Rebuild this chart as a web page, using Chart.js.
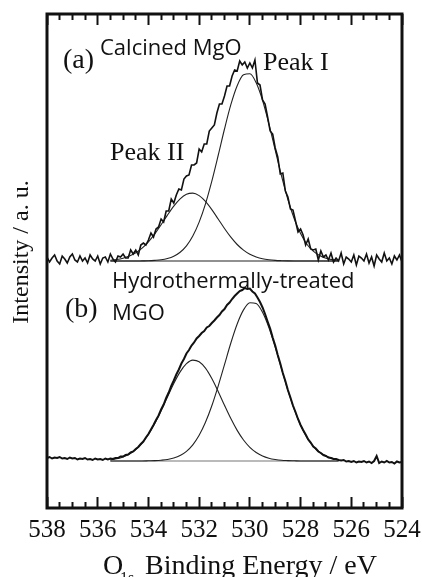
<!DOCTYPE html>
<html>
<head>
<meta charset="utf-8">
<script src="https://cdn.jsdelivr.net/npm/chart.js@4.4.1/dist/chart.umd.min.js"></script>
</head>
<body style="margin:0">
<canvas id="xps-chart" width="422" height="577"></canvas>
<script>
// O1s spectra, binding energy in eV (x) vs intensity in arbitrary units (y)
const rawEnergy = [
  538.0, 537.9, 537.8, 537.7, 537.6, 537.5, 537.4, 537.3, 537.2, 537.1,
  537.0, 536.9, 536.8, 536.7, 536.6, 536.5, 536.4, 536.3, 536.2, 536.1,
  536.0, 535.9, 535.8, 535.7, 535.6, 535.5, 535.4, 535.3, 535.2, 535.1,
  535.0, 534.9, 534.8, 534.7, 534.6, 534.5, 534.4, 534.3, 534.2, 534.1,
  534.0, 533.9, 533.8, 533.7, 533.6, 533.5, 533.4, 533.3, 533.2, 533.1,
  533.0, 532.9, 532.8, 532.7, 532.6, 532.5, 532.4, 532.3, 532.2, 532.1,
  532.0, 531.9, 531.8, 531.7, 531.6, 531.5, 531.4, 531.3, 531.2, 531.1,
  531.0, 530.9, 530.8, 530.7, 530.6, 530.5, 530.4, 530.3, 530.2, 530.1,
  530.0, 529.9, 529.8, 529.7, 529.6, 529.5, 529.4, 529.3, 529.2, 529.1,
  529.0, 528.9, 528.8, 528.7, 528.6, 528.5, 528.4, 528.3, 528.2, 528.1,
  528.0, 527.9, 527.8, 527.7, 527.6, 527.5, 527.4, 527.3, 527.2, 527.1,
  527.0, 526.9, 526.8, 526.7, 526.6, 526.5, 526.4, 526.3, 526.2, 526.1,
  526.0, 525.9, 525.8, 525.7, 525.6, 525.5, 525.4, 525.3, 525.2, 525.1,
  525.0, 524.9, 524.8, 524.7, 524.6, 524.5, 524.4, 524.3, 524.2, 524.1,
  524.0
];

// (a) calcined MgO, measured spectrum
const rawA = [
  252, 247, 251, 254, 248, 245, 253, 250, 246, 252,
  255, 249, 247, 253, 248, 251, 246, 254, 250, 248,
  253, 245, 251, 252, 247, 255, 250, 247, 253, 252,
  255, 251, 251, 259, 255, 259, 254, 264, 266, 264,
  269, 276, 272, 280, 282, 290, 287, 298, 298, 310,
  306, 314, 320, 319, 330, 333, 334, 344, 344, 346,
  360, 357, 365, 365, 378, 381, 384, 396, 405, 405,
  413, 423, 423, 433, 439, 438, 448, 444, 447, 441,
  446, 441, 449, 426, 424, 409, 405, 392, 378, 375,
  361, 352, 335, 336, 318, 312, 300, 299, 288, 277,
  280, 274, 264, 270, 260, 259, 260, 249, 258, 252,
  254, 249, 256, 247, 251, 248, 256, 245, 252, 250,
  247, 254, 244, 253, 251, 248, 255, 246, 252, 243,
  254, 250, 247, 256, 248, 251, 245, 253, 249, 254,
  247
];

// (b) hydrothermally-treated MgO, measured spectrum
const rawB = [
  51, 52, 50.5, 51.5, 51, 52, 50.5, 51, 50, 51.5,
  50.5, 51, 49.5, 50.5, 50, 51, 49.5, 50, 49, 50.5,
  49.5, 50, 49, 50.5, 49.5, 50.5, 50, 51, 51, 52.5,
  52.5, 54, 54.5, 56.5, 57.5, 60, 62, 65, 67.5, 71.5,
  75, 79.5, 84, 89, 93.5, 99.5, 104.5, 111, 116.5, 123,
  128.5, 134.5, 139.5, 145.5, 150, 155.5, 159, 163.5, 166.5, 170.5,
  173, 176, 178, 181.5, 183, 186, 188.5, 191.5, 194, 197.5,
  200, 204, 206.5, 210, 213, 215.5, 218, 219, 221, 220,
  220.5, 217.5, 215.5, 211.5, 207, 201.5, 195, 187.5, 180.5, 171.5,
  163.5, 154, 145.5, 136, 128, 119, 111.5, 103.5, 97, 90,
  84, 79, 74.5, 69.5, 66.5, 62.5, 60.5, 57.5, 56, 54,
  53, 51.5, 51, 50, 50, 49, 48.5, 49, 47.5, 48,
  47, 48, 46.5, 47.5, 47, 48, 46.5, 47.5, 46, 48,
  53, 46, 47.5, 46.5, 48, 46.5, 47, 45.5, 47.5, 46.5,
  47
];

// fitted components
const fitEnergy = [
  535.5, 535.25, 535, 534.75, 534.5, 534.25, 534, 533.75, 533.5, 533.25,
  533, 532.75, 532.5, 532.25, 532, 531.75, 531.5, 531.25, 531, 530.75,
  530.5, 530.25, 530, 529.75, 529.5, 529.25, 529, 528.75, 528.5, 528.25,
  528, 527.75, 527.5, 527.25, 527, 526.75, 526.5
];
const peakIA = [
  248, 248, 248, 248, 248, 248.1, 248.2, 248.6, 249.2, 250.5,
  252.8, 256.8, 263.2, 273.0, 286.9, 305.2, 327.9, 353.5, 380.0, 404.3,
  423.3, 434.2, 435.2, 426.2, 408.6, 385.1, 358.8, 332.8, 309.5, 290.2,
  275.4, 264.8, 257.8, 253.4, 250.8, 249.4, 248.7
];
const peakIIA = [
  248.8, 249.5, 250.8, 252.9, 256.2, 260.9, 267.2, 275.1, 284.3, 293.9,
  302.9, 310.2, 314.8, 315.9, 313.4, 307.6, 299.4, 290.0, 280.5, 271.8,
  264.5, 258.9, 254.7, 252.0, 250.2, 249.2, 248.6, 248.3, 248.1, 248,
  248, 248, 248, 248, 248, 248, 248
];
const peakIB = [
  48, 48, 48, 48, 48, 48, 48.2, 48.4, 48.8, 49.5,
  51.0, 53.5, 57.7, 64.2, 73.7, 86.7, 103.2, 122.9, 144.4, 166.0,
  185.0, 199.1, 206.3, 205.5, 196.8, 181.5, 161.8, 140.1, 118.7, 99.6,
  83.8, 71.5, 62.7, 56.7, 52.9, 50.6, 49.3
];
const peakIIB = [
  49.1, 50.2, 52.0, 54.9, 59.4, 65.8, 74.5, 85.4, 98.2, 112.0,
  125.5, 137.1, 145.3, 148.9, 147.3, 140.9, 130.5, 117.6, 103.7, 90.4,
  78.6, 69.0, 61.7, 56.5, 53.0, 50.8, 49.5, 48.7, 48.4, 48.2,
  48, 48, 48, 48, 48, 48, 48
];
const baseEnergy = [535.5, 526.5];
const baseA = [248, 248];
const baseB = [48, 48];

const xTickValues = [538, 536, 534, 532, 530, 528, 526, 524];
const xMinorTicks = [537.5, 537, 536.5, 535.5, 535, 534.5, 533.5, 533, 532.5, 531.5, 531, 530.5,
                     529.5, 529, 528.5, 527.5, 527, 526.5, 525.5, 525, 524.5];

const SERIF = '"Liberation Serif", "Times New Roman", serif';
const SANS  = '"Open Sans", "Noto Sans", sans-serif';

function pairs(xs, ys) {
    return xs.map((x, i) => ({ x: x, y: ys[i] }));
}

function rawLine(label, ys, width) {
    return { label, data: pairs(rawEnergy, ys), borderColor: '#111', borderWidth: width,
             pointRadius: 0, tension: 0, fill: false };
}

function fitLine(label, xs, ys, color) {
    return { label, data: pairs(xs, ys), borderColor: color || '#222', borderWidth: 1.1,
             pointRadius: 0, cubicInterpolationMode: 'monotone', fill: false };
}

// extra zero-height energy axes that only draw inward tick marks (negative tickLength)
function tickAxis(position, values, len) {
    return {
        type: 'linear',
        position: position,
        reverse: true,
        min: 524,
        max: 538,
        weight: 0,
        afterBuildTicks: s => { s.ticks = values.map(v => ({ value: v })); },
        afterFit: s => { s.height = 0; s.paddingLeft = 0; s.paddingRight = 0; },
        grid: { display: true, drawOnChartArea: false, drawTicks: true, tickLength: -len,
                tickWidth: 2, tickColor: '#111' },
        border: { display: false },
        ticks: { display: false }
    };
}

// frame, annotations and axis titles
const xpsDecor = {
    id: 'xpsDecor',
    afterDraw(chart) {
        const ctx = chart.ctx;
        const a = chart.chartArea;
        ctx.save();
        ctx.strokeStyle = '#111';
        ctx.lineWidth = 3;
        ctx.strokeRect(a.left, a.top, a.right - a.left, a.bottom - a.top);

        ctx.fillStyle = '#111';
        ctx.textAlign = 'left';
        ctx.textBaseline = 'alphabetic';

        ctx.font = '28px ' + SERIF;
        ctx.fillText('(a)', 63, 68);
        ctx.fillText('(b)', 65, 317);

        ctx.font = '26px ' + SERIF;
        ctx.fillText('Peak I', 263, 70);
        ctx.fillText('Peak II', 110, 160);

        ctx.font = '22px ' + SANS;
        ctx.fillText('Calcined MgO', 100, 55);
        ctx.fillText('Hydrothermally-treated', 112, 288);
        ctx.fillText('MGO', 112, 320);

        // x title with subscript
        ctx.font = '28px ' + SERIF;
        ctx.fillText('O', 103, 574);
        ctx.fillText('Binding Energy / eV', 145, 574);
        ctx.font = '16px ' + SERIF;
        ctx.fillText('1s', 120, 583);

        // y title
        ctx.translate(22, 252);
        ctx.rotate(-Math.PI / 2);
        ctx.textAlign = 'center';
        ctx.textBaseline = 'middle';
        ctx.font = '24px ' + SERIF;
        ctx.fillText('Intensity / a. u.', 0, 0);
        ctx.restore();
    }
};

new Chart(document.getElementById('xps-chart'), {
    type: 'line',
    data: {
        datasets: [
            rawLine('Calcined MgO', rawA, 1.6),
            rawLine('Hydrothermally-treated MGO', rawB, 2),
            fitLine('Peak I (a)', fitEnergy, peakIA),
            fitLine('Peak II (a)', fitEnergy, peakIIA),
            fitLine('Baseline (a)', baseEnergy, baseA),
            fitLine('Peak I (b)', fitEnergy, peakIB),
            fitLine('Peak II (b)', fitEnergy, peakIIB),
            fitLine('Baseline (b)', baseEnergy, baseB, '#777')
        ]
    },
    options: {
        responsive: false,
        animation: false,
        devicePixelRatio: 1,
        layout: { padding: { left: 47, right: 20, top: 14, bottom: 0 } },
        plugins: { legend: { display: false }, tooltip: { enabled: false } },
        scales: {
            x: {
                type: 'linear',
                reverse: true,
                min: 524,
                max: 538,
                weight: 1,
                afterBuildTicks: s => { s.ticks = xTickValues.map(v => ({ value: v })); },
                afterFit: s => { s.height = 69; s.paddingLeft = 0; s.paddingRight = 0; },
                grid: { display: true, drawOnChartArea: false, drawTicks: true, tickLength: -11,
                        tickWidth: 2, tickColor: '#111' },
                border: { display: false },
                ticks: { font: { family: SERIF, size: 25 }, color: '#111', padding: 18,
                         maxRotation: 0, autoSkip: false }
            },
            xMinor: tickAxis('bottom', xMinorTicks, 6),
            xTop: tickAxis('top', xTickValues, 11),
            xTopMinor: tickAxis('top', xMinorTicks, 6),
            y: { display: false, min: 1, max: 495 }
        }
    },
    plugins: [xpsDecor]
});
</script>
</body>
</html>
